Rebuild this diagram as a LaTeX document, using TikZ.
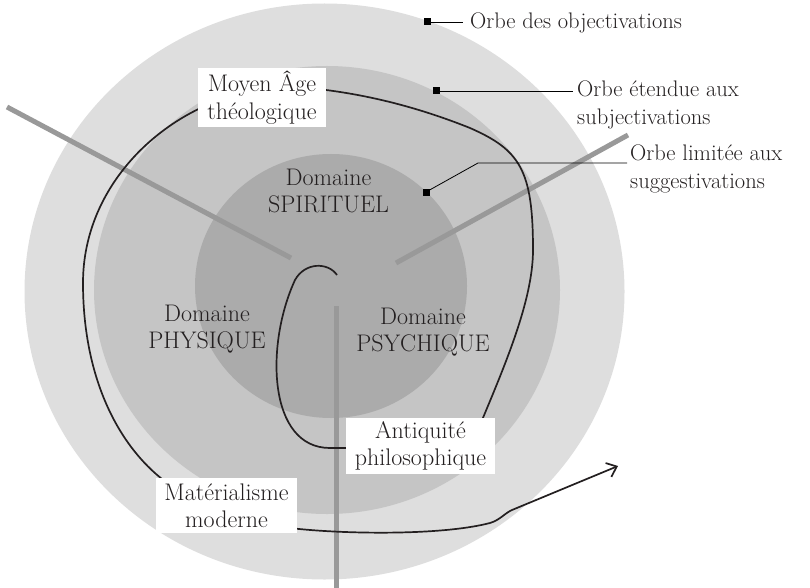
\documentclass[tikz,border=0pt]{standalone}
\usetikzlibrary{arrows.meta}
\definecolor{orbA}{HTML}{DEDEDE}
\definecolor{orbB}{HTML}{C5C5C5}
\definecolor{orbC}{HTML}{ABABAB}
\definecolor{axe}{HTML}{999999}
\definecolor{ink}{HTML}{231F20}
\begin{document}
\begin{tikzpicture}[x=1pt,y=-1pt,
  axisline/.style={draw=axe,line width=5pt},
  spiral/.style={draw=ink,line width=1.7pt},
  marker/.style={fill=black,minimum size=7pt,inner sep=0pt},
  leader/.style={draw=black,line width=0.8pt},
  orbelabel/.style={font=\fontsize{22.5}{28}\selectfont,text=ink,align=left,inner sep=0pt},
  domlabel/.style={font=\fontsize{24}{26.5}\selectfont,text=ink,align=center,inner sep=0pt},
  periodbox/.style={fill=white,font=\fontsize{24}{27.5}\selectfont,text=ink,align=center,inner sep=0pt}]
\useasboundingbox (0,0) rectangle (810,588);
% orbs
\fill[orbA] (324.5,291.5) ellipse [x radius=300pt, y radius=288pt];
\fill[orbB] (327,290) ellipse [x radius=233pt, y radius=224pt];
\fill[orbC] (331,286) ellipse [x radius=136pt, y radius=132pt];
% axes
\coordinate (a1o) at (7,107);   \coordinate (a1i) at (291,258);
\coordinate (a2o) at (628,135); \coordinate (a2i) at (396,263);
\coordinate (a3o) at (336,590); \coordinate (a3i) at (336,306);
\draw[axisline] (a1o) -- (a1i);
\draw[axisline] (a2o) -- (a2i);
\draw[axisline] (a3o) -- (a3i);
% spiral
\coordinate (s0) at (337,275);
\coordinate (s1) at (295,280);
\coordinate (s2) at (330,448);
\coordinate (s3) at (352,448);
\draw[spiral] (s0) .. controls (328,262) and (305,262) .. (s1)
  .. controls (265,345) and (268,448) .. (s2) -- (s3);
\coordinate (t0) at (480,425);
\coordinate (t1) at (533,250);
\coordinate (t2) at (470,128);
\coordinate (t3) at (318,89);
\draw[spiral] (t0) .. controls (505,365) and (533,300) .. (t1)
  .. controls (533,170) and (520,150) .. (t2)
  .. controls (420,108) and (370,95) .. (t3);
\coordinate (u0) at (205,106);
\coordinate (u1) at (83,283);
\coordinate (u2) at (170,485);
\draw[spiral] (u0) .. controls (140,135) and (83,200) .. (u1)
  .. controls (83,380) and (120,450) .. (u2);
\coordinate (v0) at (290,528);
\coordinate (v1) at (490,523);
\coordinate (v2) at (512,510);
\coordinate (v3) at (618,466);
\draw[spiral,-{Straight Barb[length=9pt,width=15pt]}] (v0) .. controls (340,534) and (440,536) .. (v1)
  .. controls (500,520) and (505,513) .. (v2) -- (v3);
% markers and leaders
\node[marker] (m1) at (427,22) {};
\node[marker] (m2) at (436,91) {};
\node[marker] (m3) at (426,192) {};
\node[orbelabel,anchor=base west] (o1) at (470,29) {Orbe des objectivations};
\node[orbelabel,anchor=west] (o2) at (577,105.4) {Orbe étendue aux\\subjectivations};
\node[orbelabel,anchor=west] (o3) at (630,169.4) {Orbe limitée aux\\suggestivations};
\coordinate (l1) at (463,22);
\coordinate (l2) at (573,91);
\coordinate (l3a) at (478,163);
\coordinate (l3b) at (627,163);
\draw[leader] (m1.center) -- (l1);
\draw[leader] (m2.center) -- (l2);
\draw[leader] (m3.center) -- (l3a) -- (l3b);
% domains
\node[domlabel] (spi) at (328.5,191) {Domaine\\SPIRITUEL};
\node[domlabel] (phy) at (207,329) {Domaine\\PHYSIQUE};
\node[domlabel] (psy) at (423,332) {Domaine\\PSYCHIQUE};
% period boxes
\node[periodbox,minimum width=128pt,minimum height=59pt] (moyen) at (262,97.5) {Moyen Âge\\théologique};
\node[periodbox,minimum width=149pt,minimum height=56pt] (antiq) at (420.5,446) {Antiquité\\philosophique};
\node[periodbox,minimum width=141pt,minimum height=55pt] (mater) at (226.5,505.5) {Matérialisme\\moderne};
\end{tikzpicture}
\end{document}
